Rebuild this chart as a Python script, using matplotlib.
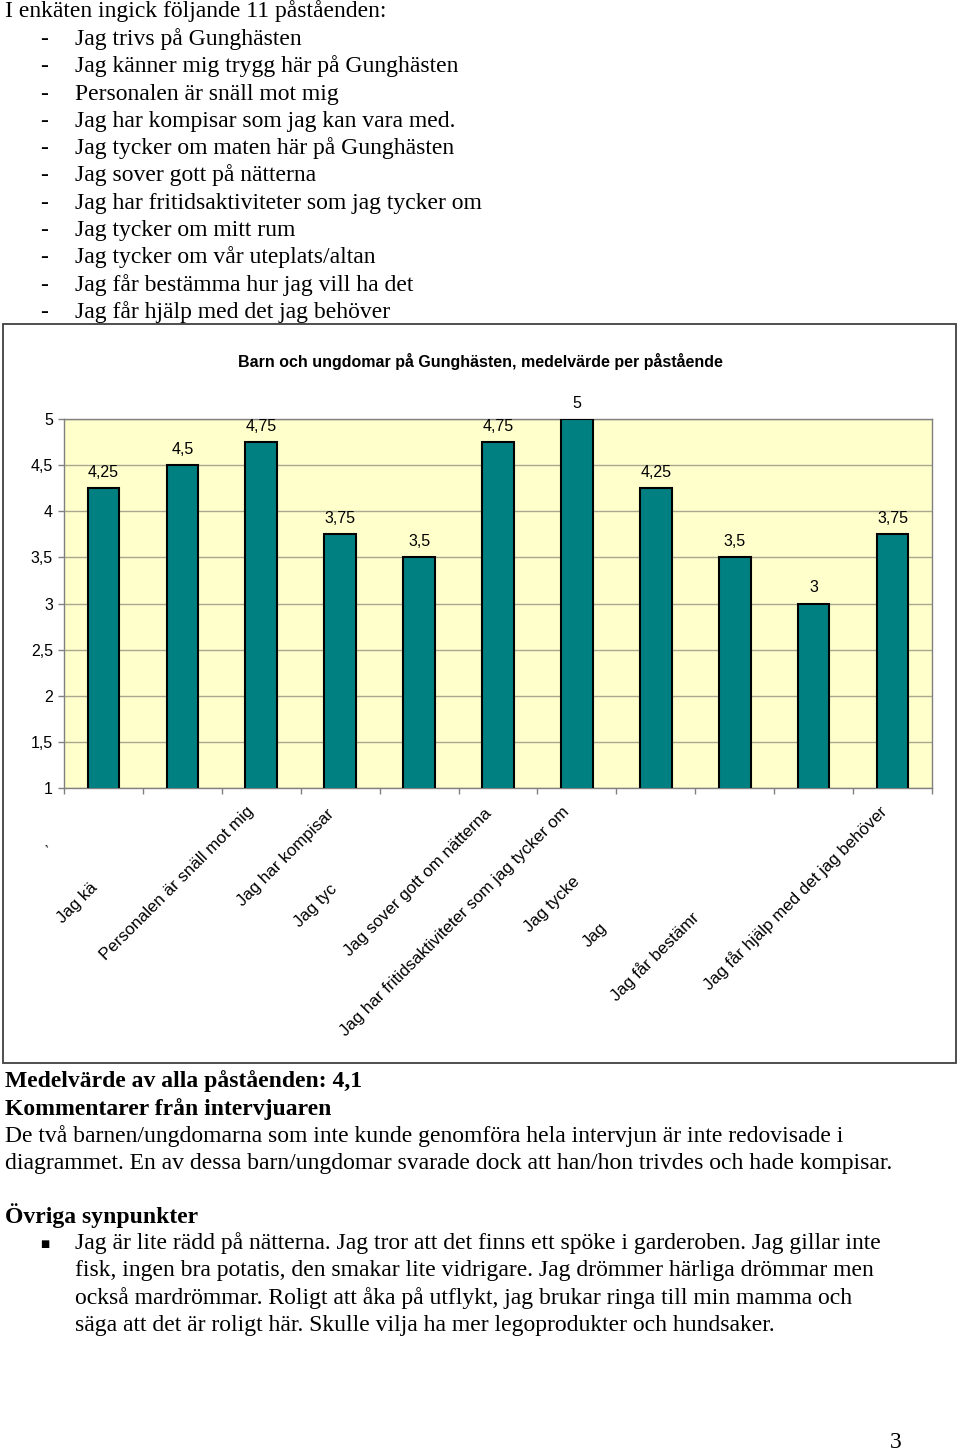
import matplotlib.pyplot as plt
from matplotlib.patches import Rectangle

W, H = 960, 1451

intro = "I enkäten ingick följande 11 påståenden:"
statements = [
    "Jag trivs på Gunghästen",
    "Jag känner mig trygg här på Gunghästen",
    "Personalen är snäll mot mig",
    "Jag har kompisar som jag kan vara med.",
    "Jag tycker om maten här på Gunghästen",
    "Jag sover gott på nätterna",
    "Jag har fritidsaktiviteter som jag tycker om",
    "Jag tycker om mitt rum",
    "Jag tycker om vår uteplats/altan",
    "Jag får bestämma hur jag vill ha det",
    "Jag får hjälp med det jag behöver",
]

# axis labels as they show up in the (clipped) excel chart
cat_labels = [
    "ʼ",
    "Jag kä",
    "Personalen är snäll mot mig",
    "Jag har kompisar",
    "Jag tyc",
    "Jag sover gott om nätterna",
    "Jag har fritidsaktiviteter som jag tycker om",
    "Jag tycke",
    "Jag",
    "Jag får bestämr",
    "Jag får hjälp med det jag behöver",
]
values = [4.25, 4.5, 4.75, 3.75, 3.5, 4.75, 5, 4.25, 3.5, 3, 3.75]
yticks = [1, 1.5, 2, 2.5, 3, 3.5, 4, 4.5, 5]

title = "Barn och ungdomar på Gunghästen, medelvärde per påstående"
mean_line = "Medelvärde av alla påståenden: 4,1"
comment_head = "Kommentarer från intervjuaren"
comment = [
    "De två barnen/ungdomarna som inte kunde genomföra hela intervjun är inte redovisade i",
    "diagrammet. En av dessa barn/ungdomar svarade dock att han/hon trivdes och hade kompisar.",
]
other_head = "Övriga synpunkter"
other = [
    "Jag är lite rädd på nätterna. Jag tror att det finns ett spöke i garderoben. Jag gillar inte",
    "fisk, ingen bra potatis, den smakar lite vidrigare. Jag drömmer härliga drömmar men",
    "också mardrömmar. Roligt att åka på utflykt, jag brukar ringa till min mamma och",
    "säga att det är roligt här. Skulle vilja ha mer legoprodukter och hundsaker.",
]

# centres (pixels) of the rotated axis labels
label_pos = [(51, 851), (77, 903), (177, 883), (286, 858), (316, 906), (418, 882),
             (455, 922), (552, 904), (595, 935), (655, 956), (795, 898)]


def fx(x):
    return x / W


def fy(y):
    return 1 - y / H


serif = "Liberation Serif"
sans = "Liberation Sans"

fig = plt.figure(figsize=(W / 100, H / 100), dpi=100)

# text above the chart
fig.text(fx(5), fy(17), intro, family=serif, fontsize=17, va="baseline")
for i, s in enumerate(statements):
    yb = 45 + i * 27.3
    fig.text(fx(40), fy(yb), "-", family=serif, fontsize=17, va="baseline")
    fig.text(fx(75), fy(yb), s, family=serif, fontsize=17, va="baseline")

# chart frame
fig.patches.append(Rectangle((fx(3), fy(1063)), fx(953), (1063 - 324) / H,
                             transform=fig.transFigure, fill=False,
                             edgecolor="#404040", linewidth=1.3))
fig.text(0.5, fy(361), title, family=sans, fontsize=11.5, fontweight="bold",
         ha="center", va="center")

ax = fig.add_axes([fx(64), fy(788), (932 - 64) / W, (788 - 419) / H])
ax.set_facecolor("#FFFFCC")
x = list(range(len(values)))
bars = ax.bar(x, values, width=0.4, color="#008080", edgecolor="black",
              linewidth=1.5, zorder=3)
for xi, v in zip(x, values):
    ax.annotate(f"{v:g}".replace(".", ","), (xi, v), xytext=(0, 8),
                textcoords="offset points", ha="center", va="baseline",
                family=sans, fontsize=11.5, annotation_clip=False)
ax.set_xlim(-0.5, len(values) - 0.5)
ax.set_ylim(1, 5)
ax.set_yticks(yticks)
ax.set_yticklabels([f"{t:g}".replace(".", ",") for t in yticks],
                   family=sans, fontsize=11.5)
ax.set_xticks([i - 0.5 for i in range(len(values) + 1)])
ax.set_xticklabels([])
ax.tick_params(axis="both", direction="out", length=4, width=1,
               color="#808080", pad=4)
ax.grid(axis="y", color="#A8A890", linewidth=1, zorder=0)
for sp in ax.spines.values():
    sp.set_color("#808080")
    sp.set_linewidth(1)

for lab, (px, py) in zip(cat_labels, label_pos):
    fig.text(fx(px), fy(py), lab, family=sans, fontsize=12.2, rotation=45,
             rotation_mode="anchor", ha="center", va="center")

# text below the chart
fig.text(fx(5), fy(1087), mean_line, family=serif, fontsize=17,
         fontweight="bold", va="baseline")
fig.text(fx(5), fy(1114.5), comment_head, family=serif, fontsize=17,
         fontweight="bold", va="baseline")
for i, s in enumerate(comment):
    fig.text(fx(5), fy(1142 + i * 27.3), s, family=serif, fontsize=17, va="baseline")
fig.text(fx(5), fy(1223), other_head, family=serif, fontsize=17,
         fontweight="bold", va="baseline")
fig.text(fx(40), fy(1247), "■", family="DejaVu Sans", fontsize=7, va="baseline")
for i, s in enumerate(other):
    fig.text(fx(75), fy(1249 + i * 27.3), s, family=serif, fontsize=17, va="baseline")

fig.text(fx(896), fy(1448), "3", family=serif, fontsize=17, ha="center", va="baseline")

fig.savefig("out.png", dpi=100)
